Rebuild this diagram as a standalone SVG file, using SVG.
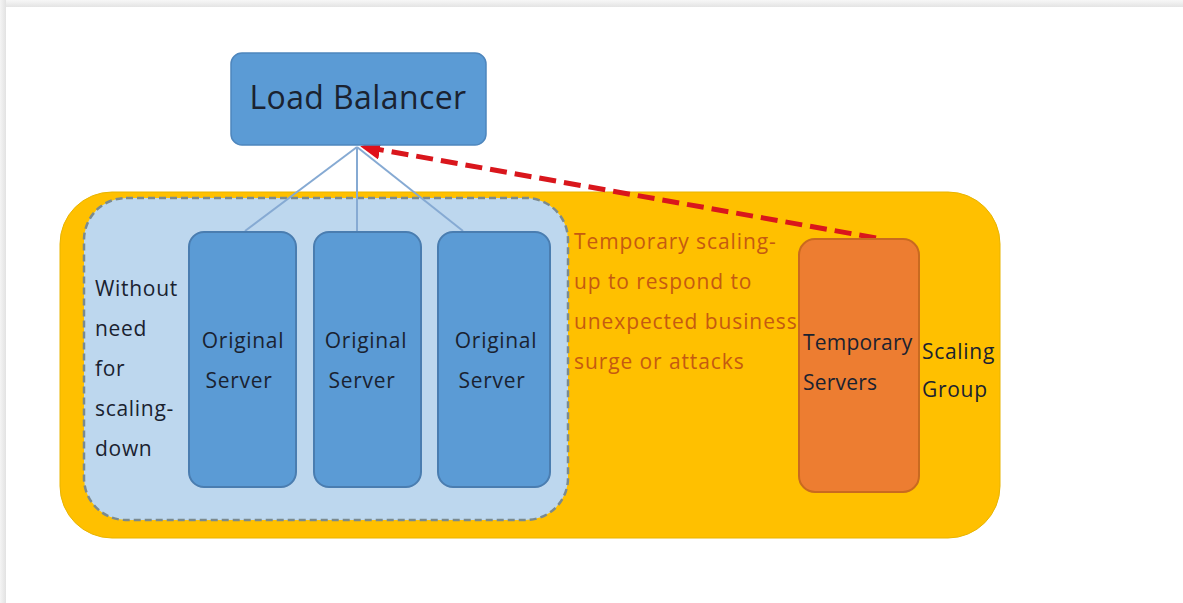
<svg xmlns="http://www.w3.org/2000/svg" width="1183" height="603" viewBox="0 0 1183 603">
  <defs>
    <linearGradient id="topShade" x1="0" y1="0" x2="0" y2="1">
      <stop offset="0" stop-color="#f7f7f7"/>
      <stop offset="1" stop-color="#e4e4e4"/>
    </linearGradient>
    <linearGradient id="leftShade" x1="0" y1="0" x2="1" y2="0">
      <stop offset="0" stop-color="#f4f4f4"/>
      <stop offset="1" stop-color="#e2e2e2"/>
    </linearGradient>
    <marker id="redHead" viewBox="0 0 10 10" refX="2" refY="5" markerWidth="4" markerHeight="4" orient="auto-start-reverse" markerUnits="strokeWidth">
      <path d="M0,0 L10,5 L0,10 z" fill="#e0101a"/>
    </marker>
  </defs>
  <style>
    .lb { fill: #5b9bd5; stroke: #4e86bd; stroke-width: 1.5; }
    .srv { fill: #5b9bd5; stroke: #4a7db0; stroke-width: 2; }
    .tmp { fill: #ed7d31; stroke: #c96a1f; stroke-width: 2; }
    .txt { font-family: "Open Sans", "Noto Sans", "Liberation Sans", sans-serif; fill: #1a2230; font-size: 21px; letter-spacing: 0.7px; }
    .note { font-family: "Open Sans", "Noto Sans", "Liberation Sans", sans-serif; fill: #c55a11; font-size: 21px; letter-spacing: 0.9px; }
    .link { stroke: #86aad3; stroke-width: 2; fill: none; }
  </style>

  <!-- page frame -->
  <rect x="0" y="0" width="1183" height="603" fill="#ffffff"/>
  <rect x="0" y="0" width="1183" height="7" fill="url(#topShade)"/>
  <rect x="0" y="0" width="6" height="603" fill="url(#leftShade)"/>

  <!-- scaling group container -->
  <g id="scaling-group">
    <rect x="60" y="192" width="940" height="346" rx="52" ry="52" fill="#ffc000" stroke="#e8b400" stroke-width="1"/>
    <text class="txt" x="922" y="359">Scaling</text>
    <text class="txt" x="922" y="397">Group</text>
  </g>

  <!-- original server pool -->
  <g id="original-pool">
    <rect x="84" y="198" width="484" height="322" rx="42" ry="42" fill="#bdd7ee" stroke="#7b8a8e" stroke-width="2.5" stroke-dasharray="7 4"/>
    <text class="txt" x="95" y="296">Without</text>
    <text class="txt" x="95" y="336">need</text>
    <text class="txt" x="95" y="376">for</text>
    <text class="txt" x="95" y="416">scaling-</text>
    <text class="txt" x="95" y="456">down</text>
  </g>

  <!-- connectors -->
  <g id="connectors">
    <line class="link" x1="357" y1="147" x2="245" y2="231"/>
    <line class="link" x1="357" y1="147" x2="357" y2="231"/>
    <line class="link" x1="357" y1="147" x2="463" y2="231"/>
    <line x1="876" y1="238" x2="376" y2="149" stroke="#d9161c" stroke-width="5" stroke-dasharray="17 8" marker-end="url(#redHead)"/>
  </g>

  <g id="load-balancer">
    <rect class="lb" x="231" y="53" width="255" height="92" rx="11" ry="11"/>
    <text class="txt" style="font-size:32px;letter-spacing:0.4px" x="358" y="109" text-anchor="middle">Load Balancer</text>
  </g>

  <g id="server-1">
    <rect class="srv" x="189" y="232" width="107" height="255" rx="15" ry="15"/>
    <text class="txt" x="243" y="348" text-anchor="middle">Original</text>
    <text class="txt" x="239" y="388" text-anchor="middle">Server</text>
  </g>

  <g id="server-2">
    <rect class="srv" x="314" y="232" width="107" height="255" rx="15" ry="15"/>
    <text class="txt" x="366" y="348" text-anchor="middle">Original</text>
    <text class="txt" x="362" y="388" text-anchor="middle">Server</text>
  </g>

  <g id="server-3">
    <rect class="srv" x="438" y="232" width="112" height="255" rx="15" ry="15"/>
    <text class="txt" x="496" y="348" text-anchor="middle">Original</text>
    <text class="txt" x="492" y="388" text-anchor="middle">Server</text>
  </g>

  <g id="scale-note">
    <text class="note" x="574" y="249">Temporary scaling-</text>
    <text class="note" x="574" y="289">up to respond to</text>
    <text class="note" x="574" y="329">unexpected business</text>
    <text class="note" x="574" y="369">surge or attacks</text>
  </g>

  <g id="temporary-servers">
    <rect class="tmp" x="799" y="239" width="120" height="253" rx="16" ry="16"/>
    <text class="txt" style="letter-spacing:0.2px" x="803" y="350">Temporary</text>
    <text class="txt" style="letter-spacing:0.2px" x="803" y="390">Servers</text>
  </g>
</svg>
